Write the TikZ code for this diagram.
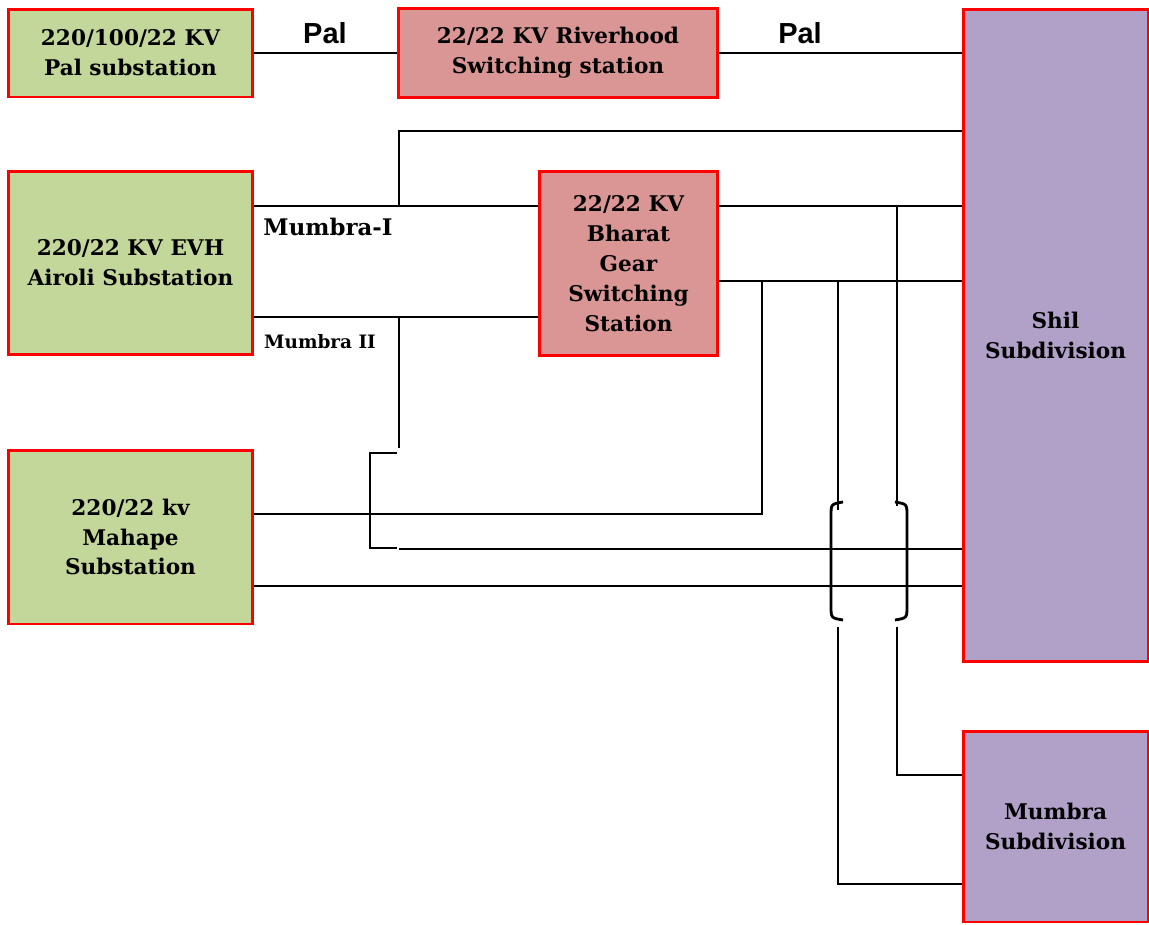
\documentclass[tikz,border=0pt]{standalone}
\usepackage{fontspec}
\setmainfont{DejaVu Serif}
\newfontfamily\palfont{Liberation Sans}
\usetikzlibrary{calc}

\definecolor{subgreen}{HTML}{C4D79B}
\definecolor{swrose}{HTML}{DA9694}
\definecolor{divlilac}{HTML}{B1A0C7}

\tikzset{
  station/.style={draw=red, line width=1.7pt, align=center, inner sep=0pt,
    font=\bfseries\fontsize{12.3}{17}\selectfont},
  feeder/.style={line width=1.1pt},
  mainfeeder/.style={line width=1.6pt},
  pallabel/.style={font=\palfont\bfseries\fontsize{16.5}{18}\selectfont},
}

\begin{document}
\begin{tikzpicture}[x=0.02cm, y=-0.02cm]
\useasboundingbox (0,0) rectangle (1149,924);
% sources
\node[station, fill=subgreen, minimum width=4.9cm, minimum height=1.76cm] (pal) at (130.5,53) {220/100/22 KV\\Pal substation};
\node[station, fill=subgreen, minimum width=4.9cm, minimum height=3.68cm] (airoli) at (130.5,263) {220/22 KV EVH\\Airoli Substation};
\node[station, fill=subgreen, minimum width=4.9cm, minimum height=3.48cm] (mahape) at (130.5,537) {220/22 kv\\Mahape\\Substation};
% switching stations
\node[station, fill=swrose, minimum width=6.4cm, minimum height=1.78cm] (riverhood) at (558,53) {22/22 KV Riverhood\\Switching station};
\node[station, fill=swrose, minimum width=3.58cm, minimum height=3.7cm] (bharat) at (628.5,263.5) {22/22 KV\\Bharat\\Gear\\Switching\\Station};
% subdivisions
\node[station, fill=divlilac, minimum width=3.7cm, minimum height=13.06cm] (shil) at (1055.5,335.5) {Shil\\Subdivision};
\node[station, fill=divlilac, minimum width=3.7cm, minimum height=3.82cm] (mumbra) at (1055.5,826.5) {Mumbra\\Subdivision};

% Pal feeder
\draw[feeder] (pal.east) -- (riverhood.west);
\draw[feeder] (riverhood.east) -- (riverhood.east -| shil.west);
\node[pallabel] (palA) at (325,33) {Pal};
\node[pallabel] (palB) at (800,33) {Pal};

% Airoli feeders
\coordinate (mI) at (399,206);
\coordinate (mII) at (399,317);
\coordinate (tI) at (399,131);
\draw[feeder] (airoli.east |- mI) -- (bharat.west |- mI);
\draw[feeder] (airoli.east |- mII) -- (bharat.west |- mII);
\draw[mainfeeder] (mI) -- (tI) -- (tI -| shil.west);
\node[font=\bfseries\fontsize{13}{15}\selectfont] (lmI) at (328,227) {Mumbra-I};
\node[font=\bfseries\fontsize{10.5}{12}\selectfont] (lmII) at (320,342) {Mumbra II};

% Mumbra II branch with hop
\coordinate (hA) at (399,448);
\coordinate (hB) at (399,549);
\draw[feeder] (mII) -- (hA);
\draw[mainfeeder] (397,453) -- (370,453) -- (370,548) -- (397,548);
\draw[mainfeeder] (hB) -- (hB -| shil.west);

% Bharat Gear outgoing
\coordinate (rA) at (762,281);
\coordinate (rB) at (762,514);
\draw[feeder] (bharat.east |- mI) -- (mI -| shil.west);
\draw[feeder] (bharat.east |- rA) -- (rA -| shil.west);
\draw[feeder] (mahape.east |- rB) -- (rB) -- (rA);

% Mahape to Shil
\coordinate (lo) at (400,586);
\draw[mainfeeder] (mahape.east |- lo) -- (lo -| shil.west);

% feeders to Mumbra with hops
\coordinate (vA) at (897,206);
\coordinate (vB) at (838,281);
\coordinate (vC) at (897,775);
\coordinate (vD) at (838,884);
\draw[feeder] (vA) -- (897,506);
\draw[mainfeeder] (895,502) .. controls (907,504) .. (907,516) -- (907,606) .. controls (907,618) .. (895,620);
\draw[feeder] (897,627) -- (vC) -- (vC -| mumbra.west);
\draw[feeder] (vB) -- (838,510);
\draw[mainfeeder] (843,502) .. controls (831,504) .. (831,516) -- (831,606) .. controls (831,618) .. (843,620);
\draw[feeder] (838,627) -- (vD) -- (vD -| mumbra.west);
\end{tikzpicture}
\end{document}
